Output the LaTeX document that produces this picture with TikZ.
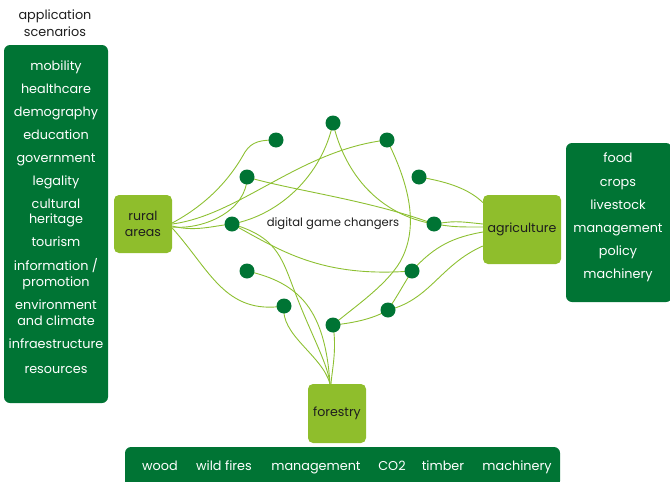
\documentclass[tikz,border=0pt]{standalone}
\usepackage{fontspec}
\setmainfont{Poppins}
\usetikzlibrary{backgrounds}
\definecolor{dg}{RGB}{0,116,52}
\definecolor{lg}{RGB}{143,190,44}
\definecolor{ln}{RGB}{141,192,50}
\definecolor{tx}{RGB}{30,30,30}
\begin{document}
\begin{tikzpicture}[x=1pt,y=-1pt,
  dot/.style={circle,fill=dg,minimum size=15pt,inner sep=0pt},
  hub/.style={fill=lg,rounded corners=5pt,text=tx,align=center,inner sep=0pt,font=\fontsize{12.6}{15.5}\selectfont},
  panel/.style={fill=dg,rounded corners=6pt,inner sep=0pt},
  item/.style={text=white,align=center,inner sep=0pt,font=\fontsize{12.8}{15.5}\selectfont},
  oneline/.style={text height=12pt,text depth=3pt},
  plain/.style={text=tx,align=center,inner sep=0pt,font=\fontsize{12.8}{17}\selectfont},
  link/.style={draw=ln,line width=0.9pt}]
\useasboundingbox (0,0) rectangle (670,482);

% panels
\node[panel,minimum width=104pt,minimum height=358pt] (left) at (56,224) {};
\node[panel,minimum width=106pt,minimum height=159pt] (right) at (619,222.5) {};
\node[panel,minimum width=435pt,minimum height=40pt] (bottom) at (342.5,467) {};

% title
\node[plain] (title) at (55,23.5) {application\\scenarios};

% left items
\node[item,oneline] (i1) at (56,66) {mobility};
\node[item,oneline] (i2) at (56,89) {healthcare};
\node[item,oneline] (i3) at (56,112) {demography};
\node[item,oneline] (i4) at (56,135) {education};
\node[item,oneline] (i5) at (56,158) {government};
\node[item,oneline] (i6) at (56,181) {legality};
\node[item] (i7) at (56,213) {cultural\\heritage};
\node[item,oneline] (i8) at (56,242) {tourism};
\node[item] (i9) at (56,274) {information /\\promotion};
\node[item] (i10) at (56,312.5) {environment\\and climate};
\node[item,oneline] (i11) at (56,344) {infraestructure};
\node[item,oneline] (i12) at (56,369) {resources};

% right items
\node[item,oneline] (r1) at (618,158) {food};
\node[item,oneline] (r2) at (618,182) {crops};
\node[item,oneline] (r3) at (618,205) {livestock};
\node[item,oneline] (r4) at (618,228) {management};
\node[item,oneline] (r5) at (618,251) {policy};
\node[item,oneline] (r6) at (618,274) {machinery};

% bottom items
\node[item,oneline] (b1) at (160,466) {wood};
\node[item,oneline] (b2) at (224,466) {wild fires};
\node[item,oneline] (b3) at (316,466) {management};
\node[item,oneline] (b4) at (392,466) {CO2};
\node[item,oneline] (b5) at (443,466) {timber};
\node[item,oneline] (b6) at (517,466) {machinery};

% hubs
\node[hub,minimum width=58pt,minimum height=58pt] (rural) at (143,224) {rural\\areas};
\node[hub,minimum width=78pt,minimum height=69pt] (agri) at (522,229.5) {agriculture};
\node[hub,minimum width=58pt,minimum height=59pt] (forestry) at (337,413.5) {forestry};

\node[plain,font=\fontsize{11.6}{13}\selectfont] (label) at (333,223.5) {digital game changers};

% dots
\node[dot] (d1) at (276,140) {};
\node[dot] (d2) at (333,123) {};
\node[dot] (d3) at (387,140) {};
\node[dot] (d4) at (247,177) {};
\node[dot] (d5) at (419,177) {};
\node[dot] (d6) at (232,224) {};
\node[dot] (d7) at (434,224) {};
\node[dot] (d8) at (247,271) {};
\node[dot] (d9) at (412,271) {};
\node[dot] (d10) at (284,306) {};
\node[dot] (d11) at (388,310) {};
\node[dot] (d12) at (333,325) {};

\begin{scope}[on background layer]
\draw[link] ([yshift=1pt]rural.east) .. controls (215,200) and (235,170) .. (245,152) .. controls (252,141) and (262,140) .. (d1.center);
\draw[link] ([yshift=-3pt]rural.east) .. controls (205,230) and (247,210) .. (d4.center);
\draw[link] (rural.east) .. controls (240,215) and (300,150) .. (d3.center);
\draw[link] (d2.center) .. controls (322,175) and (280,215) .. (d6.center);
\draw[link] ([yshift=-2pt]rural.east) .. controls (195,232) and (212,226) .. (d6.center);
\draw[link] (d4.center) .. controls (290,190) and (370,200) .. (d7.center);
\draw[link] (d2.center) .. controls (345,175) and (380,215) .. (d7.center);
\draw[link] (d7.center) .. controls (455,221) .. ([yshift=5.5pt]agri.west);
\draw[link] (d7.center) .. controls (455,227) .. ([yshift=2.5pt]agri.west);
\draw[link] (d5.center) .. controls (450,182) and (470,190) .. ([yshift=27pt]agri.west);
\draw[link] (d3.center) .. controls (412,190) and (418,230) .. (400,262) .. controls (385,287) and (350,310) .. (d12.center);
\draw[link] (d6.center) .. controls (280,250) and (320,278) .. (d9.center);
\draw[link] (d6.center) .. controls (280,238) and (282,260) .. (298,300) .. controls (313,338) and (328,365) .. ([xshift=-7pt]forestry.north);
\draw[link] (d8.center) .. controls (300,283) and (325,310) .. ([xshift=-7pt]forestry.north);
\draw[link] ([yshift=-4pt]rural.east) .. controls (210,270) and (225,315) .. (d10.center);
\draw[link] (d10.center) .. controls (280,335) and (322,355) .. ([xshift=-7pt]forestry.north);
\draw[link] (d12.center) .. controls (337,350) and (332,370) .. ([xshift=-6pt]forestry.north);
\draw[link] (d12.center) .. controls (355,323) and (375,318) .. (d11.center);
\draw[link] (d11.center) .. controls (398,295) and (405,282) .. (d9.center);
\draw[link] (d9.center) .. controls (435,245) and (455,237) .. ([yshift=-2.5pt]agri.west);
\draw[link] (d11.center) .. controls (430,300) and (440,265) .. ([yshift=-16.5pt]agri.west);
\end{scope}
\end{tikzpicture}
\end{document}
